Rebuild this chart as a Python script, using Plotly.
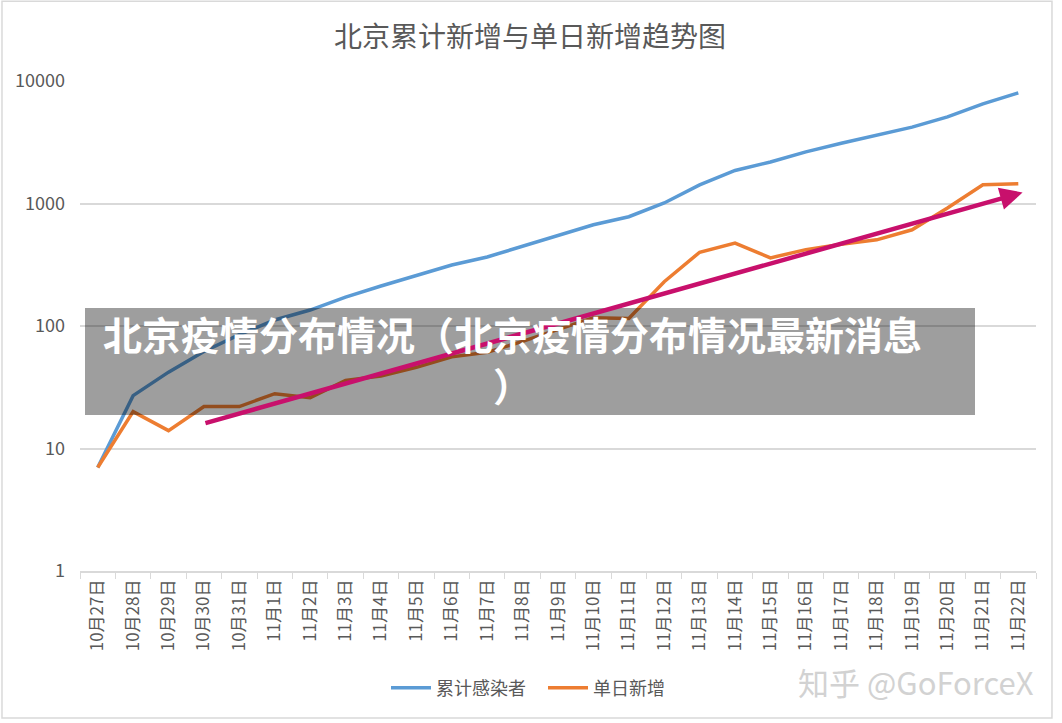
import math
import plotly.graph_objects as go

categories = ["10月27日", "10月28日", "10月29日", "10月30日", "10月31日",
              "11月1日", "11月2日", "11月3日", "11月4日", "11月5日", "11月6日",
              "11月7日", "11月8日", "11月9日", "11月10日", "11月11日", "11月12日",
              "11月13日", "11月14日", "11月15日", "11月16日", "11月17日", "11月18日",
              "11月19日", "11月20日", "11月21日", "11月22日"]
cumulative = [7, 27, 42, 62, 85, 112, 135, 172, 212, 257, 315, 366, 450, 550,
              670, 780, 1010, 1420, 1860, 2180, 2640, 3100, 3600, 4200, 5100, 6500, 8000]
daily = [7, 20, 14, 22, 22, 28, 26, 36, 39, 46, 56, 61, 75, 93, 117, 115, 230,
         400, 475, 360, 420, 465, 505, 610, 920, 1420, 1450]
trend_dates = ["10月30日", "11月22日"]
trend_values = [16, 1230]
y_ticks = [1, 10, 100, 1000, 10000]

FONT = "Noto Sans CJK SC"
GREY = "#595959"

fig = go.Figure()
fig.add_trace(go.Scatter(x=categories, y=cumulative, mode="lines", name="累计感染者",
                         line=dict(color="#5B9BD5", width=3.5)))
fig.add_trace(go.Scatter(x=categories, y=daily, mode="lines", name="单日新增",
                         line=dict(color="#ED7D31", width=3.5)))

# trend arrow
i0 = categories.index(trend_dates[0])
i1 = categories.index(trend_dates[1]) + 0.12
fig.add_annotation(x=i1, y=math.log10(trend_values[1]), ax=i0, ay=math.log10(trend_values[0]),
                   xref="x", yref="y", axref="x", ayref="y", showarrow=True, text="",
                   arrowhead=2, arrowsize=1.0, arrowwidth=4.5, arrowcolor="#C8106C",
                   standoff=0, startstandoff=0)

# chart border
fig.add_shape(type="rect", xref="paper", yref="paper", x0=-0.0816, x1=1.0167, y0=-0.3,
              y1=1.163, line=dict(color="#d9d9d9", width=1.5), fillcolor="rgba(0,0,0,0)",
              layer="below")

# overlay banner
fig.add_shape(type="rect", xref="paper", yref="paper", x0=(85 - 80) / 956, x1=(975 - 80) / 956,
              y0=(571 - 415) / 490, y1=(571 - 308) / 490, line=dict(width=0),
              fillcolor="rgba(0,0,0,0.38)", layer="above")
fig.add_annotation(xref="paper", yref="paper", x=(512 - 80) / 956, y=(571 - 359) / 490,
                   text="<b>北京疫情分布情况（北京疫情分布情况最新消息<br>）</b>",
                   showarrow=False, align="center", xanchor="center", yanchor="middle",
                   font=dict(family=FONT, size=39, color="white"))

# watermark
fig.add_annotation(xref="paper", yref="paper", x=(1036 - 80) / 956, y=(571 - 681) / 490,
                   text="知乎 @GoForceX", showarrow=False, xanchor="right", yanchor="middle",
                   font=dict(family=FONT, size=31, color="#d2d2d2"))

fig.update_layout(
    width=1062, height=723,
    margin=dict(l=80, r=26, t=81, b=152),
    paper_bgcolor="white", plot_bgcolor="white",
    font=dict(family=FONT, color=GREY),
    title=dict(text="北京累计新增与单日新增趋势图", x=(530 / 1062), xanchor="center",
               y=1 - 37 / 723, yanchor="middle", font=dict(size=28, color=GREY)),
    showlegend=True,
    legend=dict(orientation="h", x=(386 - 80) / 956, xanchor="left", y=(571 - 688) / 490,
                yanchor="middle", font=dict(size=18, color=GREY), bgcolor="rgba(0,0,0,0)",
                itemwidth=40, entrywidth=102, entrywidthmode="pixels"),
    xaxis=dict(type="category", tickangle=-90, tickfont=dict(size=17, color=GREY),
               showgrid=False, showline=True, linecolor="#d9d9d9", linewidth=1.5,
               ticks="outside", tickson="boundaries", ticklen=6, tickcolor="#d9d9d9",
               range=[-0.5, len(categories) - 0.5]),
    yaxis=dict(type="log", range=[0, 4], tickvals=y_ticks, ticktext=[str(v) for v in y_ticks],
               tickfont=dict(size=18, color=GREY), showgrid=True, gridcolor="#d9d9d9",
               gridwidth=1.5, zeroline=False, showline=False, ticks="", ticklabelstandoff=14),
)

fig.write_html("out.html")
